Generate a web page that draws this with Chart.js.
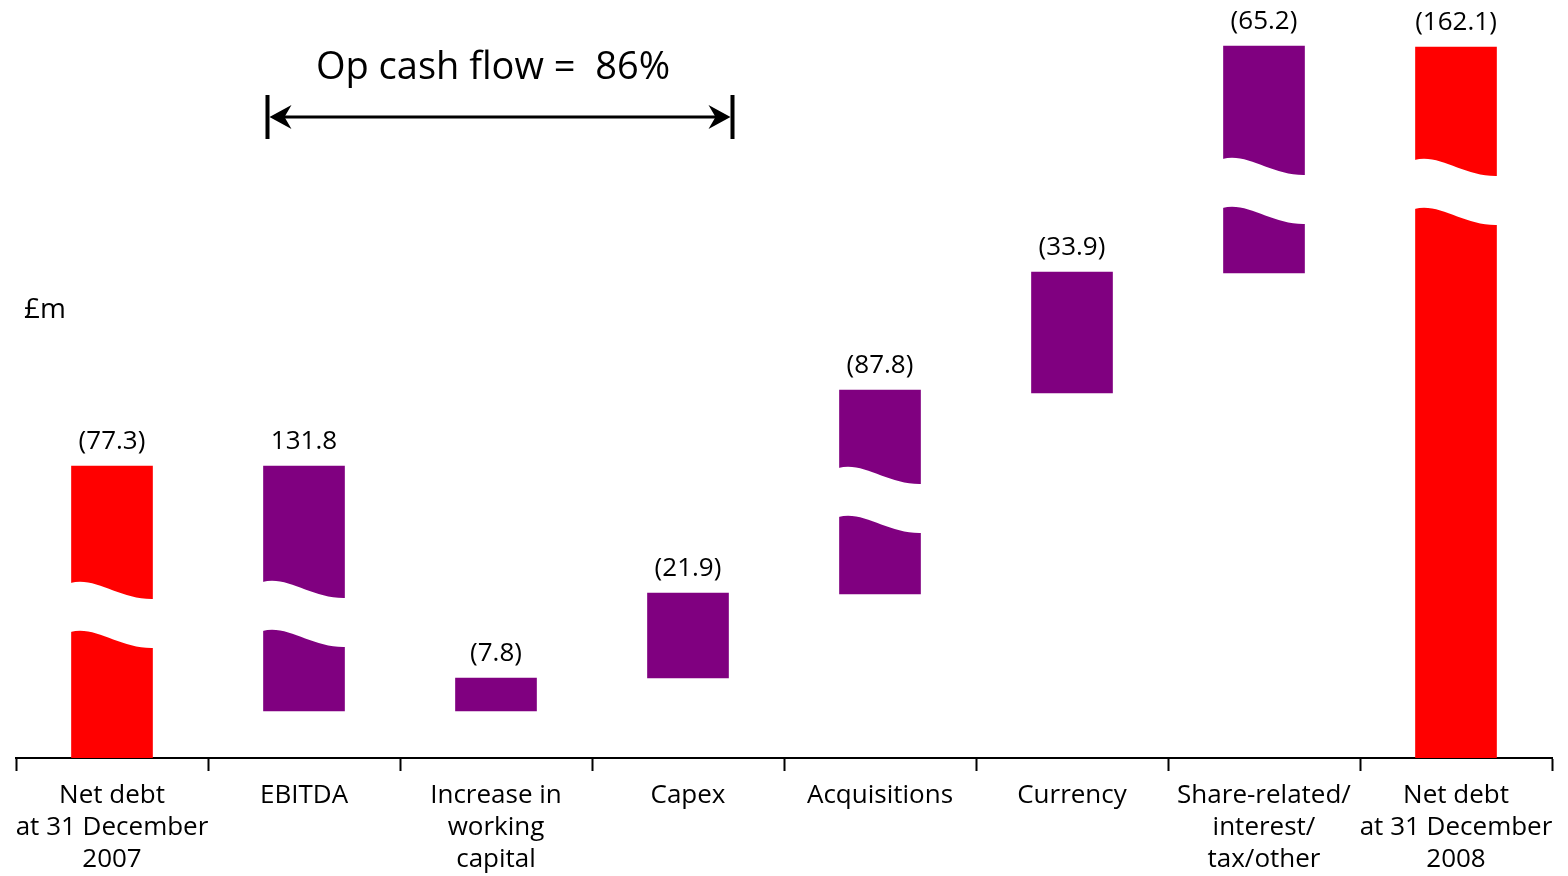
<!DOCTYPE html>
<html>
<head>
<meta charset="utf-8">
<script src="https://cdn.jsdelivr.net/npm/chart.js@4"></script>
<style>
  html, body { margin: 0; padding: 0; background: #fff; }
  #wrap { width: 1568px; height: 876px; position: relative; }
</style>
</head>
<body>
<div id="wrap"><canvas id="chart"></canvas></div>
<script>
// categories (x-axis tick labels, multi-line)
const categories = [
    ["Net debt", "at 31 December", "2007"],
    ["EBITDA"],
    ["Increase in", "working", "capital"],
    ["Capex"],
    ["Acquisitions"],
    ["Currency"],
    ["Share-related/", "interest/", "tax/other"],
    ["Net debt", "at 31 December", "2008"]
];

// bar extents in drawing units above the axis (axis is broken, not to scale)
const barLow  = [0,   47,  47,  80,  164, 365, 485, 0];
const barHigh = [292, 292, 80,  165, 368, 486, 712, 711];

// printed amounts (£m)
const valueLabels = ["(77.3)", "131.8", "(7.8)", "(21.9)", "(87.8)", "(33.9)", "(65.2)", "(162.1)"];

const red = "#ff0000";
const purple = "#800080";
const barColors = [red, purple, purple, purple, purple, purple, purple, red];

// where each bar is broken (top of the white wave at the left edge), null = no break
const breaks = [175, 176, null, null, 290, null, 599, 598];

const fontFamily = "'Open Sans', 'Noto Sans', sans-serif";

const overlayPlugin = {
    id: "overlay",
    afterDatasetsDraw(chart) {
        const ctx = chart.ctx;
        const y = chart.scales.y;
        const meta = chart.getDatasetMeta(0);

        // wavy white breaks across the long bars
        meta.data.forEach((bar, i) => {
            if (breaks[i] === null) return;
            const w = bar.width + 2;
            const x0 = bar.x - w / 2;
            const y0 = y.getPixelForValue(breaks[i]);
            const gap = 49;
            ctx.save();
            ctx.fillStyle = "#fff";
            ctx.beginPath();
            ctx.moveTo(x0, y0);
            ctx.bezierCurveTo(x0 + w * 0.3, y0 - 7, x0 + w * 0.6, y0 + 17, x0 + w, y0 + 16);
            ctx.lineTo(x0 + w, y0 + 16 + gap);
            ctx.bezierCurveTo(x0 + w * 0.6, y0 + 17 + gap, x0 + w * 0.3, y0 - 7 + gap, x0, y0 + gap);
            ctx.closePath();
            ctx.fill();
            ctx.restore();
        });

        // value labels above bars
        ctx.save();
        ctx.fillStyle = "#000";
        ctx.font = "26px " + fontFamily;
        ctx.textAlign = "center";
        ctx.textBaseline = "alphabetic";
        meta.data.forEach((bar, i) => {
            ctx.fillText(valueLabels[i], bar.x, y.getPixelForValue(barHigh[i]) - 17);
        });
        ctx.restore();

        // units label
        ctx.save();
        ctx.fillStyle = "#000";
        ctx.font = "28px " + fontFamily;
        ctx.textAlign = "left";
        ctx.fillText("£m", 24, 318);
        ctx.restore();

        // op cash flow bracket from EBITDA to Capex
        const left = meta.data[1].x - meta.data[1].width / 2 + 4;
        const right = meta.data[3].x + meta.data[3].width / 2 + 4;
        const ay = y.getPixelForValue(641);
        ctx.save();
        ctx.strokeStyle = "#000";
        ctx.fillStyle = "#000";
        ctx.lineWidth = 4;
        ctx.beginPath();
        ctx.moveTo(left, ay - 22); ctx.lineTo(left, ay + 22);
        ctx.moveTo(right, ay - 22); ctx.lineTo(right, ay + 22);
        ctx.stroke();
        ctx.lineWidth = 3;
        ctx.beginPath();
        ctx.moveTo(left + 10, ay); ctx.lineTo(right - 10, ay);
        ctx.stroke();
        // arrow heads
        [[left + 2, 1], [right - 2, -1]].forEach(([tx, d]) => {
            ctx.beginPath();
            ctx.moveTo(tx, ay);
            ctx.lineTo(tx + d * 22, ay - 12);
            ctx.lineTo(tx + d * 15, ay);
            ctx.lineTo(tx + d * 22, ay + 12);
            ctx.closePath();
            ctx.fill();
        });
        ctx.font = "38px " + fontFamily;
        ctx.textAlign = "center";
        ctx.fillText("Op cash flow =  86%", (left + right) / 2 - 7, 79);
        ctx.restore();
    }
};

const ctx = document.getElementById("chart");
new Chart(ctx, {
    type: "bar",
    data: {
        labels: categories,
        datasets: [{
            data: barLow.map((lo, i) => [lo, barHigh[i]]),
            backgroundColor: barColors,
            borderWidth: 0,
            barThickness: 81
        }]
    },
    options: {
        responsive: true,
        maintainAspectRatio: false,
        animation: false,
        layout: { padding: { left: 16, right: 16, top: 0, bottom: 0 } },
        plugins: {
            legend: { display: false },
            tooltip: { enabled: false }
        },
        scales: {
            x: {
                grid: {
                    display: true,
                    offset: true,
                    drawOnChartArea: false,
                    drawTicks: true,
                    tickLength: 13,
                    tickWidth: 2,
                    tickColor: "#000"
                },
                border: { display: true, color: "#000", width: 2 },
                ticks: {
                    color: "#000",
                    padding: 9,
                    maxRotation: 0,
                    autoSkip: false,
                    font: { family: fontFamily, size: 26, lineHeight: 1.23 }
                },
                afterFit(scale) { scale.height = 118; }
            },
            y: {
                display: false,
                min: 0,
                max: 758
            }
        }
    },
    plugins: [overlayPlugin]
});
</script>
</body>
</html>
